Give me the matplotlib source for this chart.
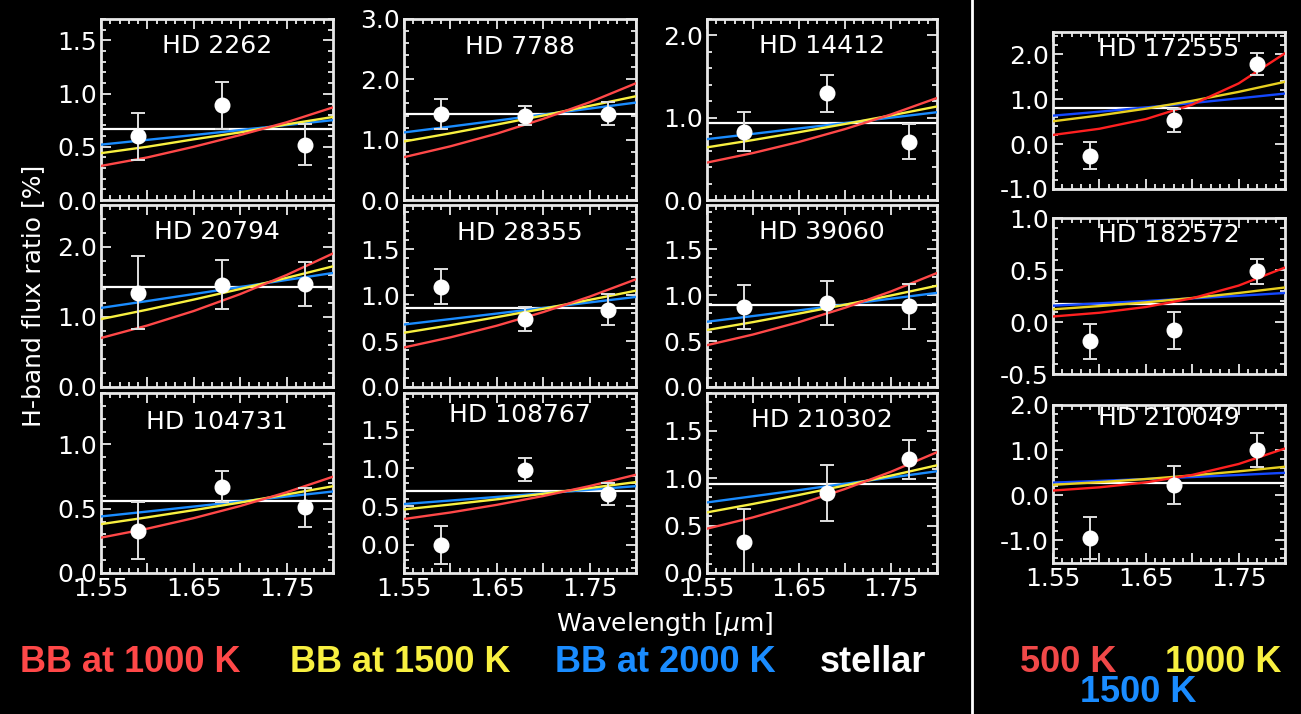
import matplotlib
matplotlib.use("Agg")
import matplotlib.pyplot as plt
from matplotlib.ticker import MultipleLocator, FixedLocator, FixedFormatter
from matplotlib.lines import Line2D

plt.rcParams["font.family"] = ["DejaVu Sans"]
plt.rcParams["axes.unicode_minus"] = False

# ---- data -------------------------------------------------------------
star_names = ["HD 2262", "HD 7788", "HD 14412",
              "HD 20794", "HD 28355", "HD 39060",
              "HD 104731", "HD 108767", "HD 210302",
              "HD 172555", "HD 182572", "HD 210049"]

# photometric band centres [micron]
obs_wavelength = [1.59, 1.68, 1.77]

# measured H-band flux ratios [%] and 1-sigma errors
obs_flux = [[0.60, 0.89, 0.52], [1.42, 1.40, 1.43], [0.83, 1.30, 0.71],
            [1.35, 1.46, 1.47], [1.09, 0.74, 0.84], [0.87, 0.91, 0.88],
            [0.33, 0.67, 0.51], [0.00, 0.98, 0.66], [0.33, 0.84, 1.20],
            [-0.26, 0.53, 1.79], [-0.185, -0.08, 0.49], [-0.95, 0.22, 1.00]]
obs_err = [[0.22, 0.22, 0.19], [0.25, 0.16, 0.19], [0.235, 0.225, 0.21],
           [0.52, 0.35, 0.31], [0.19, 0.13, 0.17], [0.235, 0.24, 0.245],
           [0.22, 0.12, 0.15], [0.25, 0.145, 0.14], [0.35, 0.295, 0.205],
           [0.30, 0.25, 0.25], [0.17, 0.18, 0.12], [0.47, 0.42, 0.37]]

# flat (stellar-colour) companion level [%]
stellar_level = [0.665, 1.42, 0.94, 1.435, 0.86, 0.89, 0.558, 0.70, 0.94,
                 0.807, 0.175, 0.274]

# blackbody companion models sampled on a wavelength grid [micron]
model_wavelength = [1.55, 1.60, 1.65, 1.70, 1.75, 1.80]
# coolest model (1000 K left block, 500 K right block)
model_cool = [[0.32, 0.40, 0.50, 0.61, 0.73, 0.87],
              [0.71, 0.89, 1.10, 1.345, 1.62, 1.935],
              [0.455, 0.571, 0.706, 0.862, 1.04, 1.24],
              [0.70, 0.879, 1.086, 1.327, 1.60, 1.908],
              [0.43, 0.54, 0.667, 0.815, 0.983, 1.172],
              [0.455, 0.571, 0.706, 0.862, 1.04, 1.24],
              [0.275, 0.345, 0.427, 0.521, 0.628, 0.749],
              [0.335, 0.42, 0.52, 0.635, 0.765, 0.913],
              [0.468, 0.587, 0.726, 0.887, 1.069, 1.275],
              [0.205, 0.343, 0.558, 0.881, 1.353, 2.026],
              [0.053, 0.089, 0.144, 0.228, 0.35, 0.524],
              [0.105, 0.176, 0.286, 0.451, 0.693, 1.037]]
# intermediate model (1500 K left block, 1000 K right block)
model_mid = [[0.44, 0.50, 0.57, 0.635, 0.71, 0.78],
             [0.97, 1.105, 1.25, 1.40, 1.56, 1.72],
             [0.64, 0.729, 0.824, 0.924, 1.028, 1.137],
             [0.97, 1.105, 1.249, 1.40, 1.559, 1.724],
             [0.59, 0.672, 0.76, 0.851, 0.948, 1.048],
             [0.62, 0.706, 0.799, 0.895, 0.996, 1.102],
             [0.38, 0.433, 0.489, 0.548, 0.611, 0.675],
             [0.46, 0.524, 0.592, 0.664, 0.739, 0.817],
             [0.64, 0.729, 0.824, 0.924, 1.028, 1.137],
             [0.51, 0.64, 0.79, 0.966, 1.165, 1.39],
             [0.122, 0.153, 0.189, 0.231, 0.279, 0.332],
             [0.232, 0.291, 0.36, 0.44, 0.53, 0.632]]
# hottest model (2000 K left block, 1500 K right block)
model_hot = [[0.52, 0.565, 0.61, 0.657, 0.704, 0.75],
             [1.12, 1.217, 1.316, 1.416, 1.515, 1.615],
             [0.74, 0.804, 0.87, 0.935, 1.001, 1.067],
             [1.13, 1.228, 1.328, 1.428, 1.529, 1.629],
             [0.68, 0.739, 0.799, 0.86, 0.92, 0.98],
             [0.71, 0.772, 0.834, 0.897, 0.961, 1.024],
             [0.44, 0.478, 0.517, 0.556, 0.595, 0.634],
             [0.53, 0.576, 0.623, 0.67, 0.717, 0.764],
             [0.745, 0.81, 0.875, 0.942, 1.008, 1.074],
             [0.635, 0.723, 0.818, 0.916, 1.02, 1.128],
             [0.157, 0.179, 0.202, 0.227, 0.252, 0.279],
             [0.28, 0.319, 0.361, 0.404, 0.45, 0.498]]

x_tick_labels = ["1.55", "1.65", "1.75"]
left_legend = ["BB at 1000 K", "BB at 1500 K", "BB at 2000 K", "stellar"]
right_legend = ["500 K", "1000 K", "1500 K"]

# ---- layout -----------------------------------------------------------
W, H = 1301, 714
fig = plt.figure(figsize=(W / 100, H / 100), dpi=100, facecolor="black")

def rect(x0, x1, y0, y1):
    return [x0 / W, 1 - y1 / H, (x1 - x0) / W, (y1 - y0) / H]

col_x = [(101, 333), (404, 636), (707, 937)]
row_y = [(19, 200), (205, 387), (393, 573)]
right_x = (1053, 1285)
right_y = [(32, 189), (218, 374), (405, 563)]

boxes = [rect(*col_x[c], *row_y[r]) for r in range(3) for c in range(3)]
boxes += [rect(*right_x, *ry) for ry in right_y]

ylims = [(0, 1.7), (0, 3.0), (0, 2.2), (0, 2.6), (0, 1.98), (0, 1.98),
         (0, 1.4), (-0.37, 1.98), (0, 1.9), (-1.0, 2.5), (-0.5, 1.0),
         (-1.5, 2.0)]
y_major = [0.5, 1.0, 1.0, 1.0, 0.5, 0.5, 0.5, 0.5, 0.5, 1.0, 0.5, 1.0]
title_y = [0.85, 0.845, 0.85, 0.85, 0.846, 0.85, 0.84, 0.88, 0.85,
           0.89, 0.89, 0.92]
show_xlabels = [False] * 6 + [True] * 3 + [False, False, True]

left_colors = ["#ff4848", "#f8f040", "#1a8cff"]
right_colors = ["#ff2020", "#e8d020", "#1448ff"]

FS = 18
for i, name in enumerate(star_names):
    ax = fig.add_axes(boxes[i])
    ax.set_facecolor("black")
    colors = left_colors if i < 9 else right_colors

    ax.axhline(stellar_level[i], color="white", lw=1.6, zorder=2)
    for vals, col in zip([model_hot, model_mid, model_cool], colors[::-1]):
        ax.plot(model_wavelength, vals[i], color=col, lw=1.7, zorder=3)
    ax.errorbar(obs_wavelength, obs_flux[i], yerr=obs_err[i], fmt="o",
                color="white", ecolor="#e0e0e0", ms=10.5, elinewidth=1.4,
                capsize=5, capthick=1.4, zorder=4)

    ax.set_xlim(1.55, 1.80)
    ax.set_ylim(*ylims[i])
    ax.xaxis.set_major_locator(FixedLocator([1.55, 1.60, 1.65, 1.70, 1.75, 1.80]))
    ax.xaxis.set_major_formatter(FixedFormatter(
        [x_tick_labels[0], "", x_tick_labels[1], "", x_tick_labels[2], ""]))
    ax.xaxis.set_minor_locator(MultipleLocator(0.01))
    ax.yaxis.set_major_locator(MultipleLocator(y_major[i]))
    ax.yaxis.set_major_formatter(plt.FormatStrFormatter("%.1f"))
    ax.yaxis.set_minor_locator(MultipleLocator(0.1 if y_major[i] == 0.5 else 0.2))
    ax.tick_params(which="both", direction="in", top=True, right=True,
                   colors="white", labelsize=FS, width=1.2)
    ax.tick_params(which="major", length=7, pad=3)
    ax.tick_params(which="minor", length=3.5)
    if not show_xlabels[i]:
        ax.tick_params(axis="x", labelbottom=False)
    for sp in ax.spines.values():
        sp.set_color("#e8e8e8")
        sp.set_linewidth(2)
    ax.text(0.5, title_y[i], name, transform=ax.transAxes, ha="center",
            va="center", color="white", fontsize=FS, zorder=5)

fig.text(33 / W, 1 - 296 / H, "H-band flux ratio [%]", rotation=90,
         ha="center", va="center", color="white", fontsize=FS)
fig.text(665 / W, 1 - 624 / H, r"Wavelength [$\mu$m]", ha="center",
         va="center", color="white", fontsize=FS)

fig.add_artist(Line2D([972 / W, 972 / W], [0, 1], color="white", lw=2,
                      transform=fig.transFigure))

legend_font = dict(fontsize=26, fontweight="bold",
                   family=["Liberation Sans", "DejaVu Sans"], va="center")
for txt, xpos, col in zip(left_legend, [20, 290, 555, 820],
                          left_colors + ["white"]):
    fig.text(xpos / W, 1 - 662 / H, txt, color=col, **legend_font)
for txt, xpos, ypos, col in zip(right_legend, [1020, 1165, 1080],
                                [662, 662, 692],
                                ["#f04848", "#f8f040", "#1a8cff"]):
    fig.text(xpos / W, 1 - ypos / H, txt, color=col, **legend_font)

fig.savefig("out.png", dpi=100, facecolor="black")
